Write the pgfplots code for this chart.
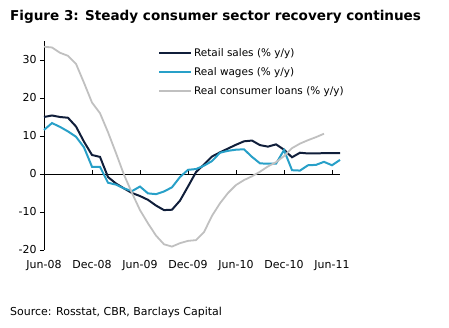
\documentclass[border=0pt]{standalone}
\usepackage{pgfplots}
\pgfplotsset{compat=1.18}
\usepackage{fontspec}
\setmainfont{DejaVu Sans}
\definecolor{navy}{RGB}{16,30,58}
\definecolor{teal2}{RGB}{40,160,200}
\definecolor{lgray}{RGB}{192,192,192}
\begin{document}
\begin{tikzpicture}
\path[use as bounding box] (0,0) rectangle (449bp,328bp);
\node[anchor=west,inner sep=0pt,font=\bfseries\fontsize{13.6}{15}\selectfont] at (10bp,311bp) {Figure 3: Steady consumer sector recovery continues};
\node[anchor=west,inner sep=0pt,font=\fontsize{11}{13}\selectfont] at (10bp,16bp) {Source: Rosstat, CBR, Barclays Capital};
\begin{axis}[
  at={(44bp,78bp)}, anchor=south west,
  scale only axis, width=296bp, height=209bp,
  xmin=0, xmax=37, ymin=-20, ymax=35,
  axis y line*=left, axis x line*=bottom,
  x axis line style={draw=none},
  xtick={0,6,12,18,24,30,36},
  xticklabels={Jun-08,Dec-08,Jun-09,Dec-09,Jun-10,Dec-10,Jun-11},
  x tick style={draw=none},
  xticklabel style={yshift=-3bp},
  ytick={-20,-10,0,10,20,30},
  y tick style={black, thin},
  tick align=outside, major tick length=4bp,
  tick label style={font=\fontsize{11}{13}\selectfont},
  /pgf/number format/assume math mode=true,
  clip=false,
  legend style={at={(0.385,0.975)}, anchor=north west, draw=none, fill=none,
    font=\fontsize{10.5}{12}\selectfont, row sep=5.5bp, inner sep=0pt},
  legend cell align=left,
  legend image code/.code={\draw[#1] (0bp,0bp) -- (32bp,0bp);},
]
\addplot[black, thin, forget plot] coordinates {(0,0) (37,0)};
\addplot[black, thin, forget plot] coordinates {(6,0) (6,1.1)};
\addplot[black, thin, forget plot] coordinates {(12,0) (12,1.1)};
\addplot[black, thin, forget plot] coordinates {(18,0) (18,1.1)};
\addplot[black, thin, forget plot] coordinates {(24,0) (24,1.1)};
\addplot[black, thin, forget plot] coordinates {(30,0) (30,1.1)};
\addplot[black, thin, forget plot] coordinates {(36,0) (36,1.1)};
\addplot[navy, line width=2pt] coordinates {
(0,15) (1,15.4) (2,15) (3,14.8) (4,12.5) (5,8.5) (6,5) (7,4.5) (8,-0.8) (9,-2.5)
(10,-3.8) (11,-5) (12,-5.8) (13,-6.8) (14,-8.3) (15,-9.5) (16,-9.4) (17,-7) (18,-3.3) (19,0.5)
(20,2.5) (21,4.6) (22,5.7) (23,6.7) (24,7.7) (25,8.6) (26,8.8) (27,7.6) (28,7.2) (29,7.8)
(30,6.4) (31,4.4) (32,5.6) (33,5.4) (34,5.4) (35,5.5) (36,5.5) (37,5.5)};
\addlegendentry{Retail sales (\% y/y)}
\addplot[teal2, line width=2pt] coordinates {
(0,11.6) (1,13.4) (2,12.4) (3,11.2) (4,9.8) (5,7) (6,1.9) (7,1.9) (8,-2.3) (9,-2.8)
(10,-3.8) (11,-4.5) (12,-3.3) (13,-5.1) (14,-5.3) (15,-4.6) (16,-3.5) (17,-0.8) (18,1.1) (19,1.3)
(20,2.2) (21,3.4) (22,5.6) (23,6.1) (24,6.4) (25,6.5) (26,4.5) (27,2.8) (28,2.7) (29,2.7)
(30,6.3) (31,1) (32,0.9) (33,2.3) (34,2.4) (35,3.2) (36,2.3) (37,3.7)};
\addlegendentry{Real wages (\% y/y)}
\addplot[lgray, line width=1.8pt] coordinates {
(0,33.5) (1,33.3) (2,31.9) (3,31.1) (4,29) (5,24) (6,18.8) (7,16) (8,11) (9,5.5)
(10,-0.2) (11,-5) (12,-9.5) (13,-13) (14,-16.2) (15,-18.5) (16,-19.1) (17,-18.2) (18,-17.6) (19,-17.4)
(20,-15.3) (21,-11) (22,-7.7) (23,-5) (24,-2.9) (25,-1.6) (26,-0.6) (27,0.6) (28,2) (29,3.1)
(30,4.7) (31,6.8) (32,8) (33,8.9) (34,9.7) (35,10.6)};
\addlegendentry{Real consumer loans (\% y/y)}
\end{axis}
\end{tikzpicture}
\end{document}
